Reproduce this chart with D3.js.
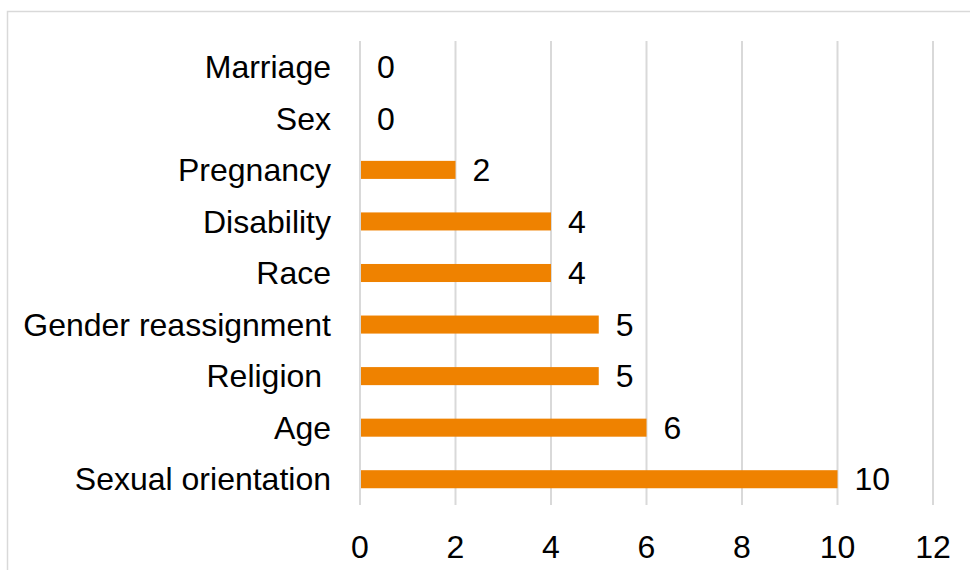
<!DOCTYPE html>
<html><head><meta charset="utf-8">
<script src="https://cdn.jsdelivr.net/npm/d3@7"></script>
<style>body{margin:0;background:#fff}svg{display:block}text{font-family:"Liberation Sans",Arial,sans-serif;fill:#000}</style>
</head><body>
<svg id="c" width="970" height="570"></svg>
<script>
const categories = ["Marriage","Sex","Pregnancy","Disability","Race","Gender reassignment","Religion ","Age","Sexual orientation"];
const values = [0,0,2,4,4,5,5,6,10];
const tickValues = [0,2,4,6,8,10,12];

const svg = d3.select("#c");
svg.append("rect").attr("x",7.5).attr("y",11.5).attr("width",980).attr("height",600)
  .attr("fill","none").attr("stroke","#d9d9d9").attr("stroke-width",1.5);

const x = d3.scaleLinear().domain([0,12]).range([360,933]);
const y = d3.scaleBand().domain(categories).range([41,505]).paddingInner(0.65).paddingOuter(0.325);

svg.append("g").selectAll("line").data(tickValues).join("line")
  .attr("x1",d=>x(d)).attr("x2",d=>x(d)).attr("y1",41).attr("y2",505)
  .attr("stroke","#d9d9d9").attr("stroke-width",2);

svg.append("g").selectAll("rect").data(categories).join("rect")
  .attr("x",x(0)+1).attr("y",d=>y(d)).attr("height",y.bandwidth())
  .attr("width",(d,i)=>Math.max(0,x(values[i])-x(0)-1)).attr("fill","#EF8200");

const fs = "32px";
svg.append("g").selectAll("text").data(categories).join("text")
  .attr("x",331).attr("y",d=>y(d)+y.bandwidth()/2).attr("dy","0.35em")
  .attr("text-anchor","end").style("font-size",fs).style("white-space","pre").text(d=>d);

svg.append("g").selectAll("text").data(categories).join("text")
  .attr("x",(d,i)=>x(values[i])+17).attr("y",d=>y(d)+y.bandwidth()/2).attr("dy","0.35em")
  .style("font-size",fs).text((d,i)=>values[i]);

svg.append("g").selectAll("text").data(tickValues).join("text")
  .attr("x",d=>x(d)).attr("y",547).attr("dy","0.35em").attr("text-anchor","middle")
  .style("font-size",fs).text(d=>d);
</script>
</body></html>
